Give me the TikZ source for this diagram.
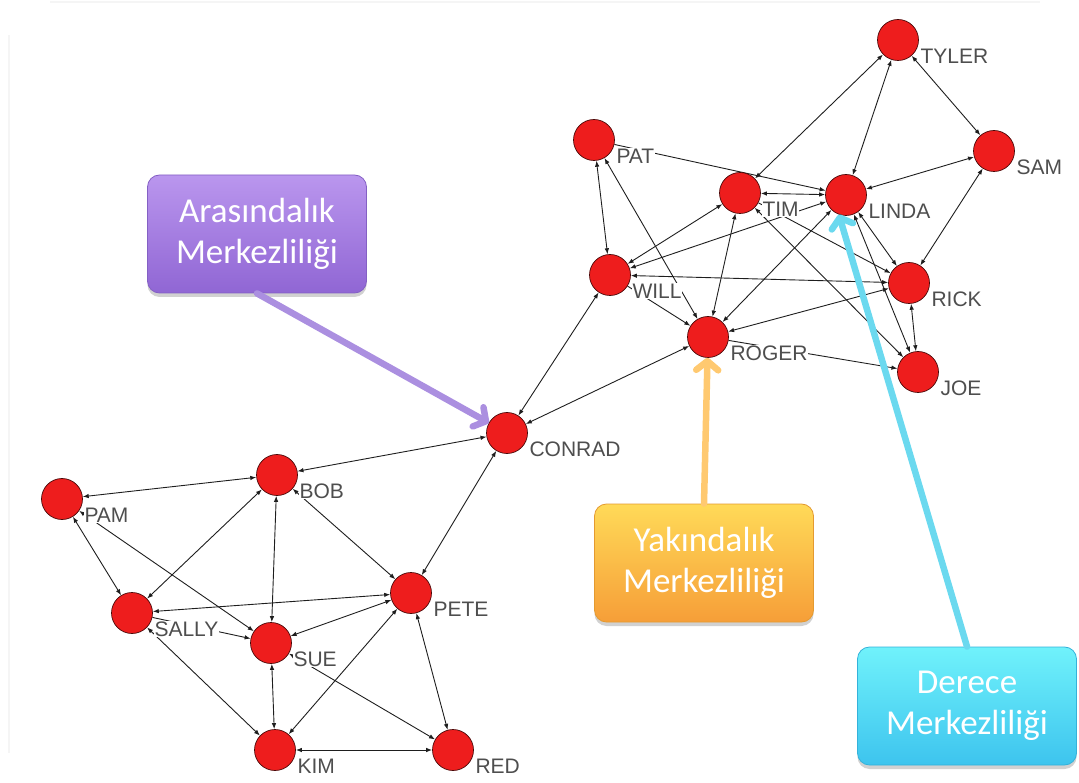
\documentclass[tikz,border=0pt]{standalone}
\usepackage{fontspec}
\setmainfont{Liberation Sans}
\newfontfamily\boxfont{Carlito}
\usetikzlibrary{arrows.meta,shadows}
\pgfdeclarelayer{bg}
\pgfsetlayers{bg,main}
\definecolor{nodered}{HTML}{EE1D1D}
\definecolor{nodeedge}{HTML}{4A0808}
\definecolor{edgecol}{HTML}{1E1E1E}
\definecolor{labgray}{HTML}{4E4E4E}
\definecolor{frame}{HTML}{F5F5F5}
\definecolor{purpTop}{HTML}{BA96EE}
\definecolor{purpBot}{HTML}{9066D4}
\definecolor{purpEdge}{HTML}{8460C4}
\definecolor{purpArrow}{HTML}{AB8FE0}
\definecolor{yelTop}{HTML}{FFDA58}
\definecolor{yelBot}{HTML}{F69E38}
\definecolor{yelEdge}{HTML}{E49A30}
\definecolor{yelArrow}{HTML}{FFC970}
\definecolor{cyaTop}{HTML}{70F2FB}
\definecolor{cyaBot}{HTML}{3DC4EE}
\definecolor{cyaEdge}{HTML}{34B2DA}
\definecolor{cyaArrow}{HTML}{6BD9EF}
\newcommand\pnode[4]{%
  \node[pt] (#1) at (#2,#3) {};
  \node[lab] (#1-l) at (#2+22,#3+16) {#4};}
\begin{document}
\begin{tikzpicture}[x=1pt,y=-1pt,
  pt/.style={circle, fill=nodered, draw=nodeedge, line width=0.7pt, minimum size=41pt, inner sep=0pt},
  lab/.style={anchor=west, font=\fontsize{21}{21}\selectfont, text=labgray, fill=white, inner sep=0.3pt},
  e/.style={draw=edgecol, line width=0.9pt, {Latex[length=6pt,width=4.5pt]}-{Latex[length=6pt,width=4.5pt]}},
  oe/.style={draw=edgecol, line width=0.9pt, -{Latex[length=6pt,width=4.5pt]}},
  callout/.style={rectangle, rounded corners=12pt, line width=0.8pt, minimum width=219pt, minimum height=118pt,
     align=center, text=white, font=\boxfont\fontsize{35}{41}\selectfont,
     drop shadow={shadow xshift=0pt, shadow yshift=-4pt, opacity=0.3, fill=black!60}},
  pointer/.style={line width=6.5pt, line cap=round, -{Straight Barb[length=9pt,width=22pt,round]}}
]
\useasboundingbox (0,0) rectangle (1079,783);
% faint frame
\draw[frame, line width=2pt] (50,2) -- (1040,2);
\draw[frame, line width=2pt] (9,35) -- (9,753);

% nodes
\pnode{tyler}{898}{40}{TYLER}
\pnode{pat}{594}{140}{PAT}
\pnode{tim}{740}{193}{TIM}
\pnode{linda}{846}{195}{LINDA}
\pnode{sam}{994}{151}{SAM}
\pnode{will}{610}{275}{WILL}
\pnode{rick}{909}{283}{RICK}
\pnode{roger}{708}{337}{ROGER}
\pnode{joe}{918}{372}{JOE}
\pnode{conrad}{507}{433}{CONRAD}
\pnode{bob}{277}{475}{BOB}
\pnode{pam}{62}{499}{PAM}
\pnode{pete}{411}{593}{PETE}
\pnode{sally}{132}{613}{SALLY}
\pnode{sue}{271}{643}{SUE}
\pnode{kim}{275}{750}{KIM}
\pnode{red}{453}{750}{RED}

\begin{pgfonlayer}{bg}
% lower group
\draw[e] (conrad) -- (bob);
\draw[e] (bob) -- (pam);
\draw[e] (pam) -- (sally);
\draw[e] (pam) -- (sue);
\draw[e] (bob) -- (sally);
\draw[e] (bob) -- (sue);
\draw[e] (bob) -- (pete);
\draw[e] (conrad) -- (pete);
\draw[e] (sally) -- (pete);
\draw[oe] (sally) -- (sue);
\draw[e] (sue) -- (pete);
\draw[e] (sally) -- (kim);
\draw[e] (sue) -- (kim);
\draw[e] (kim) -- (pete);
\draw[e] (sue) -- (red);
\draw[e] (pete) -- (red);
\draw[e] (kim) -- (red);
% upper group
\draw[e] (will) -- (conrad);
\draw[e] (roger) -- (conrad);
\draw[e] (pat) -- (will);
\draw[e] (pat) -- (roger);
\draw[oe] (pat) -- (linda);
\draw[e] (tim) -- (tyler);
\draw[e] (tim) -- (linda);
\draw[e] (will) -- (linda);
\draw[oe] (tim) -- (rick);
\draw[e] (tim) -- (joe);
\draw[e] (tim) -- (will);
\draw[e] (tim) -- (roger);
\draw[e] (will) -- (rick);
\draw[oe] (will) -- (roger);
\draw[e] (linda) -- (roger);
\draw[e] (rick) -- (roger);
\draw[oe] (roger) -- (joe);
\draw[e] (tyler) -- (linda);
\draw[e] (tyler) -- (sam);
\draw[e] (sam) -- (linda);
\draw[e] (sam) -- (rick);
\draw[e] (linda) -- (rick);
\draw[e] (linda) -- (joe);
\draw[e] (rick) -- (joe);
\end{pgfonlayer}

% callout boxes
\node[callout, top color=purpTop, bottom color=purpBot, draw=purpEdge] (pbox) at (257,234) {Arasındalık\\Merkezliliği};
\node[callout, top color=yelTop, bottom color=yelBot, draw=yelEdge] (ybox) at (704,563) {Yakındalık\\Merkezliliği};
\node[callout, top color=cyaTop, bottom color=cyaBot, draw=cyaEdge] (cbox) at (967,706) {Derece\\Merkezliliği};

% pointers
\draw[pointer, purpArrow] (pbox.south) -- (conrad);
\draw[pointer, yelArrow] (ybox.north) -- (roger);
\draw[pointer, cyaArrow] (cbox.north) -- (linda.250);
\end{tikzpicture}
\end{document}
